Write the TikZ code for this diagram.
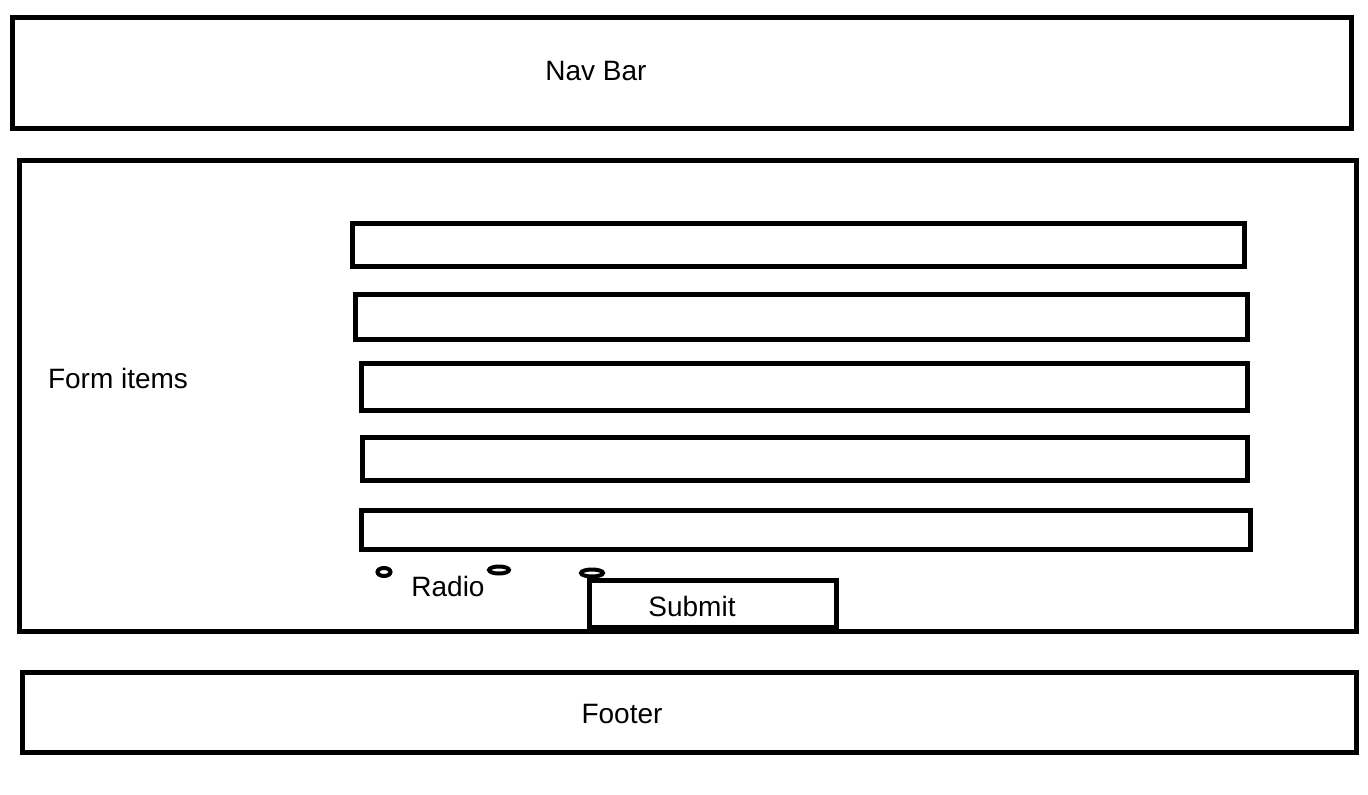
\documentclass[tikz,border=0pt]{standalone}
\usepackage{fontspec}
\setmainfont{Liberation Sans}
\usepackage{tikz}

\begin{document}
\begin{tikzpicture}[x=1pt,y=-1pt,
  box/.style={draw,line width=5pt},
  radio/.style={draw,line width=4pt},
  label/.style={font=\fontsize{28}{32}\selectfont,inner sep=0pt}]
  \useasboundingbox (0,0) rectangle (1368,795);
  % page frames
  \draw [box] (12,17) rectangle (1351,128);
  \node [label] (nav) at (596,71) {Nav Bar};
  \draw [box] (19,160) rectangle (1356,631);
  \node [label] (form) at (118,378) {Form items};
  \draw [box] (22,672) rectangle (1356,752);
  \node [label] (footer) at (622,714) {Footer};
  % input fields
  \draw [box] (352,223) rectangle (1244,266);
  \draw [box] (355,294) rectangle (1247,339);
  \draw [box] (361,363) rectangle (1247,410);
  \draw [box] (362,437) rectangle (1247,480);
  \draw [box] (361,510) rectangle (1250,549);
  % radios and button
  \draw [radio] (384,572) ellipse [x radius=6.5, y radius=4];
  \draw [radio] (499,570) ellipse [x radius=10, y radius=3.5];
  \draw [radio] (592,573) ellipse [x radius=11, y radius=3.5];
  \node [label] (radio) at (448,586) {Radio};
  \draw [box] (589,580) rectangle (836,627);
  \node [label] (submit) at (692,606) {Submit};
\end{tikzpicture}
\end{document}
